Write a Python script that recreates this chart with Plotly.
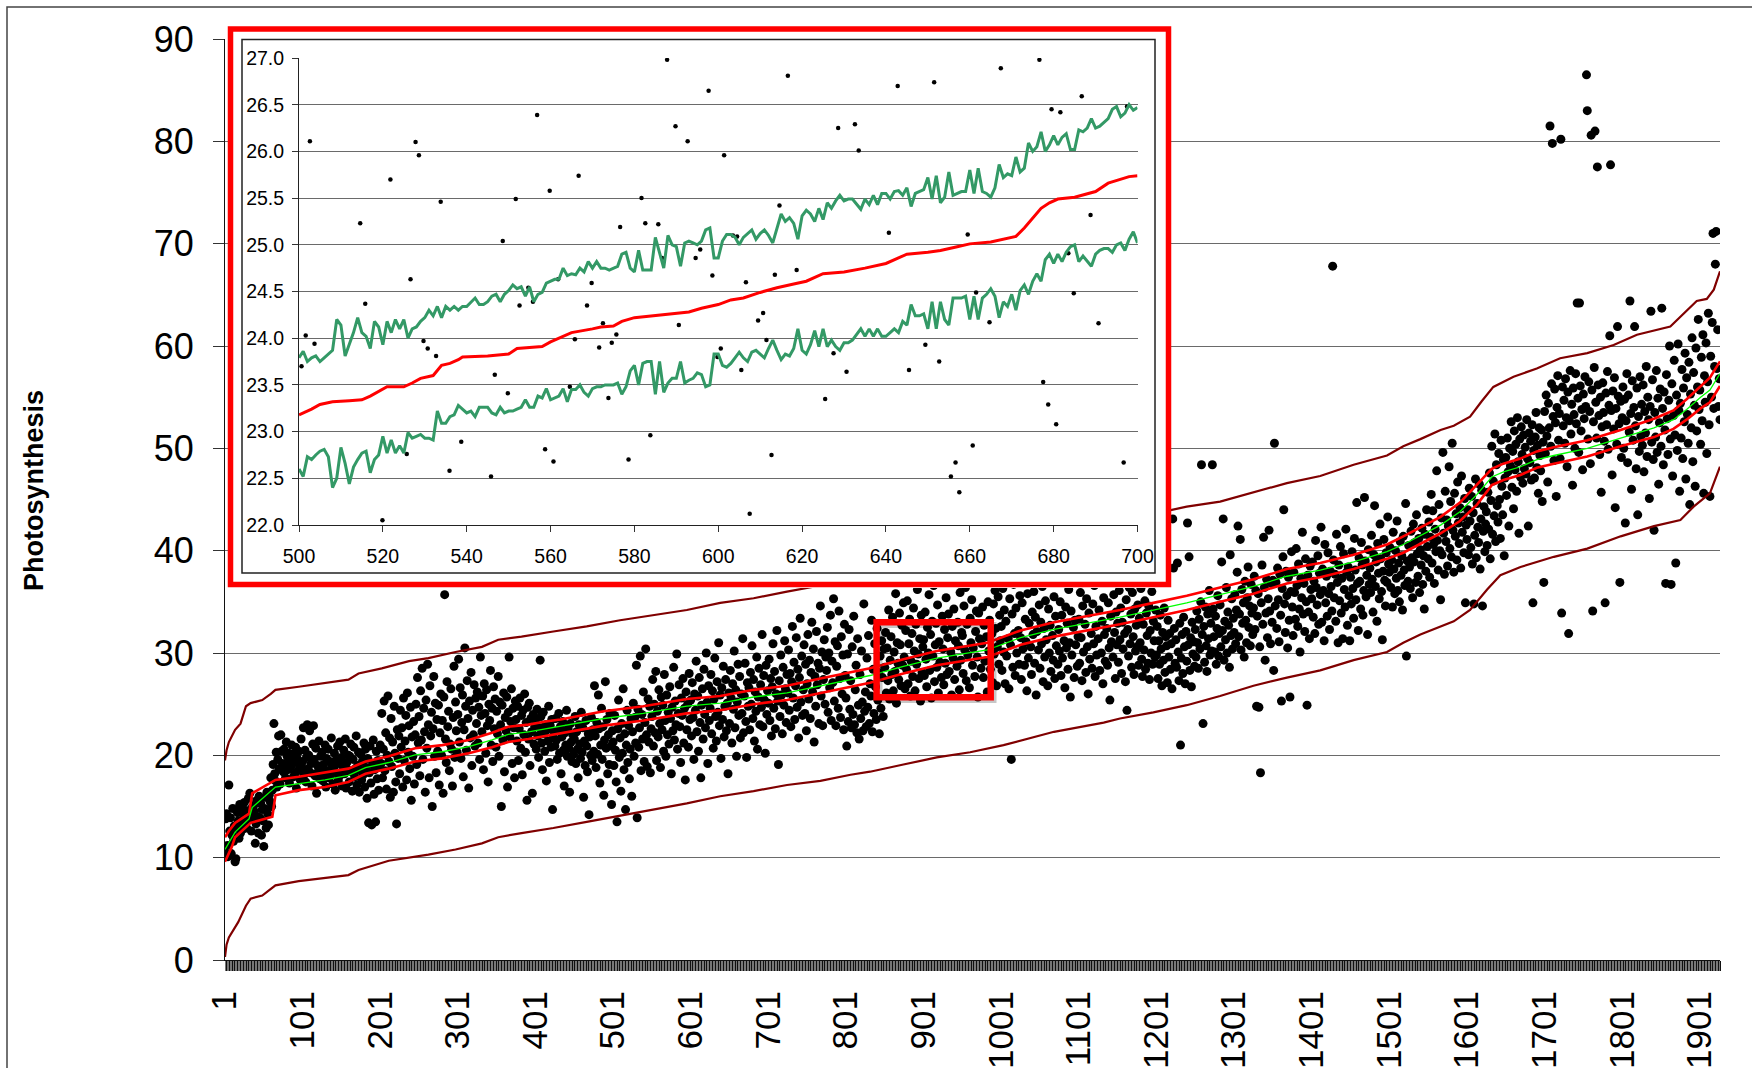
import plotly.graph_objects as go

# ---------------- main chart data ----------------
# measured photosynthesis, one value per ranked sample (1..1927)
photosynthesis = [
    10.5, 13.8, 14.3, 11.2, 10.1, 17.1, 12.6, 13.9, 10.4, 12.2, 14.8, 11.6, 13.1, 9.6, 9.9, 12.9, 14.4, 13.6, 11.9, 15.2, 12.4, 14.9, 13.2, 12.8, 14.1,
    15.4, 13.5, 14.6, 12.9, 14.2, 15.8, 13.7, 16.3, 14.4, 12.6, 14.9, 13.8, 15.1, 14.5, 11.4, 13.3, 15.6, 14.0, 12.4, 16.0, 13.9, 15.3, 12.2, 14.7, 13.6,
    11.1, 14.8, 15.9, 12.9, 16.4, 14.3, 13.2, 16.1, 15.5, 17.8, 15.0, 16.6, 19.1, 23.1, 18.2, 17.5, 20.3, 16.9, 19.6, 21.9, 18.7, 17.2, 22.0, 20.4, 19.2,
    18.4, 20.6, 19.1, 17.8, 21.3, 19.9, 18.6, 20.2, 17.3, 19.5, 18.9, 21.0, 20.1, 17.9, 19.3, 18.2, 20.8, 16.8, 19.7, 18.5, 20.4, 19.0, 17.6, 21.6, 18.8,
    19.4, 22.7, 18.1, 20.5, 17.4, 19.8, 23.0, 18.7, 20.0, 22.4, 18.3, 19.2, 17.0, 21.1, 22.9, 19.6, 18.0, 20.7, 16.3, 19.0, 18.4, 21.4, 17.7, 19.9, 18.6,
    20.3, 17.5, 19.1, 18.2, 21.0, 16.9, 19.7, 18.5, 20.6, 17.8, 19.4, 18.0, 21.7, 19.0, 17.2, 18.8, 20.2, 16.6, 19.5, 18.3, 20.9, 17.6, 19.2, 21.3, 18.1,
    19.8, 17.0, 18.9, 20.5, 18.2, 21.6, 16.8, 19.3, 18.6, 20.0, 17.4, 19.9, 21.1, 18.4, 16.5, 19.6, 20.8, 17.9, 18.7, 21.9, 17.1, 19.0, 20.3, 16.4, 18.5,
    20.1, 17.6, 19.4, 18.1, 21.2, 16.9, 20.6, 18.8, 15.8, 19.7, 13.4, 18.3, 20.9, 17.3, 13.2, 19.1, 21.5, 16.2, 18.6, 13.5, 20.4, 17.7, 19.5, 16.6, 18.9,
    21.0, 19.2, 24.1, 17.8, 20.6, 25.3, 18.5, 22.2, 16.7, 20.0, 25.8, 19.4, 21.7, 15.9, 23.6, 18.9, 21.3, 16.4, 24.8, 20.2, 17.4, 13.3, 22.5, 19.7, 21.9,
    18.2, 24.4, 20.8, 22.7, 16.9, 25.6, 19.5, 21.4, 23.9, 17.6, 26.1, 20.3, 22.9, 18.7, 24.7, 15.6, 21.8, 19.9, 23.3, 17.2, 22.0, 25.0, 19.1, 27.6, 21.2,
    23.8, 18.0, 26.3, 21.5, 28.5, 19.6, 24.6, 22.3, 16.4, 25.4, 20.7, 28.9, 23.0, 17.8, 26.8, 21.9, 24.2, 15.0, 22.6, 27.7, 19.9, 25.1, 18.3, 23.5, 20.4,
    24.9, 17.1, 22.2, 26.0, 20.0, 23.4, 16.3, 25.7, 35.7, 21.6, 19.3, 27.2, 22.8, 24.3, 18.5, 21.1, 26.5, 20.6, 17.0, 23.7, 28.7, 19.8, 25.2, 22.4, 20.3,
    24.0, 29.4, 21.3, 26.6, 19.7, 23.2, 25.9, 17.9, 22.5, 30.5, 24.8, 20.5, 27.3, 23.6, 16.8, 25.3, 21.7, 28.1, 19.0, 24.4, 22.0, 26.9, 20.9, 25.6, 23.1,
    26.2, 21.2, 24.7, 19.6, 29.6, 23.9, 22.3, 25.8, 18.6, 27.0, 24.1, 20.2, 26.4, 22.9, 17.4, 25.0, 23.4, 28.3, 21.0, 24.6, 19.4, 26.7, 22.6, 25.5, 20.8,
    24.3, 22.1, 27.7, 19.9, 25.2, 23.0, 15.0, 24.9, 21.5, 26.1, 18.4, 23.7, 22.4, 25.7, 16.9, 24.2, 29.6, 21.8, 23.3, 26.5, 19.2, 24.6, 22.7, 17.8, 25.3,
    23.5, 21.4, 24.8, 19.5, 22.6, 25.6, 20.7, 23.9, 18.1, 24.4, 22.0, 26.0, 20.3, 23.2, 15.6, 24.7, 21.6, 25.1, 19.0, 23.6, 22.3, 16.3, 24.0, 21.1, 22.8,
    23.4, 20.6, 24.5, 21.9, 19.8, 22.7, 29.3, 23.8, 21.2, 18.6, 24.2, 22.1, 20.4, 23.0, 17.5, 22.5, 21.4, 24.8, 19.3, 22.9, 20.8, 23.5, 14.7, 21.7, 22.3,
    20.9, 23.6, 21.5, 19.6, 22.4, 24.1, 20.2, 22.8, 18.2, 21.8, 23.3, 20.5, 17.0, 22.2, 21.0, 24.4, 19.9, 22.6, 20.7, 16.4, 23.1, 21.3, 19.4, 22.0, 20.1,
    21.6, 23.8, 19.2, 22.3, 20.6, 17.8, 23.0, 21.1, 19.7, 24.2, 20.3, 22.7, 15.9, 21.4, 19.0, 23.4, 20.9, 18.4, 22.1, 14.2, 21.8, 20.0, 23.7, 19.5, 22.5,
    20.4, 26.8, 21.9, 18.8, 23.2, 20.1, 25.9, 22.6, 17.3, 21.0, 24.6, 19.6, 22.8, 16.1, 21.5, 27.2, 20.7, 23.5, 18.2, 22.0, 19.1, 24.1, 20.9, 15.2, 22.4,
    21.3, 19.0, 23.9, 20.5, 17.4, 13.5, 22.6, 25.4, 19.8, 21.7, 16.5, 23.1, 20.2, 26.5, 18.6, 22.1, 14.7, 21.0, 24.4, 19.3, 22.9, 17.7, 20.6, 23.6, 16.0,
    22.3, 25.1, 19.9, 23.7, 21.2, 28.8, 13.9, 24.5, 20.8, 22.7, 29.7, 18.5, 24.0, 21.6, 26.2, 19.4, 23.2, 30.4, 22.0, 18.9, 25.5, 21.3, 24.8, 18.3, 22.6,
    23.8, 27.4, 20.9, 25.0, 22.2, 28.2, 19.5, 24.3, 21.8, 26.4, 23.1, 18.8, 25.7, 22.5, 24.9, 20.4, 27.9, 23.4, 19.9, 25.9, 22.0, 24.2, 21.1, 26.7, 23.6,
    18.2, 24.7, 22.4, 28.6, 21.5, 25.3, 23.0, 29.9, 20.6, 24.1, 26.9, 22.8, 19.3, 25.6, 23.9, 27.5, 21.2, 24.6, 17.6, 26.2, 22.5, 25.0, 20.8, 28.0, 23.5,
    25.4, 21.9, 27.1, 23.7, 19.6, 26.0, 24.4, 29.2, 22.3, 25.8, 20.4, 27.6, 23.2, 17.8, 24.9, 26.5, 21.6, 28.4, 24.0, 22.7, 30.0, 25.2, 19.2, 26.8, 23.4,
    24.6, 27.9, 22.1, 26.3, 20.7, 25.5, 29.5, 23.8, 21.4, 27.2, 24.2, 31.0, 22.9, 25.9, 19.7, 26.6, 23.5, 28.7, 21.8, 24.8, 27.4, 22.4, 25.1, 18.2, 26.1,
    23.1, 28.3, 25.6, 21.2, 27.0, 24.5, 30.2, 22.7, 26.4, 19.9, 25.2, 28.9, 23.9, 27.7, 21.7, 26.0, 24.1, 31.4, 22.2, 25.8, 29.0, 23.3, 19.8, 27.1, 24.8,
    26.6, 22.5, 28.1, 25.0, 30.7, 23.6, 27.4, 21.4, 26.2, 24.3, 29.6, 20.6, 25.7, 28.5, 23.0, 26.9, 24.7, 31.8, 22.8, 27.8, 25.4, 20.2, 28.8, 24.0, 26.3,
    25.1, 29.4, 23.4, 27.5, 21.9, 26.7, 30.9, 24.6, 28.2, 22.6, 26.0, 32.2, 25.3, 19.1, 27.3, 23.8, 29.8, 25.9, 22.1, 28.6, 24.9, 31.2, 26.5, 23.2, 27.9,
    26.1, 30.3, 24.4, 28.0, 22.8, 27.2, 32.6, 25.6, 29.1, 23.5, 26.8, 31.5, 24.7, 28.4, 21.7, 27.6, 33.4, 25.2, 29.7, 23.9, 26.4, 30.8, 24.1, 28.9, 22.4,
    27.0, 31.8, 25.5, 29.3, 23.6, 28.1, 33.0, 26.2, 30.4, 21.3, 27.7, 24.8, 32.1, 26.9, 29.0, 23.1, 28.5, 34.6, 25.8, 30.1, 22.9, 27.4, 31.3, 25.0, 29.6,
    28.3, 32.5, 24.2, 30.0, 26.6, 33.7, 23.4, 29.2, 27.1, 35.3, 25.3, 31.1, 22.9, 28.7, 30.7, 24.6, 34.1, 27.5, 23.7, 31.6, 26.0, 29.8, 22.5, 32.8, 27.8,
    25.6, 20.9, 29.9, 23.3, 32.3, 24.5, 27.3, 22.7, 30.6, 24.0, 33.6, 23.0, 26.4, 28.8, 22.2, 31.4, 24.9, 21.6, 27.9, 23.6, 30.2, 25.2, 22.4, 34.8, 24.3,
    26.2, 22.8, 29.5, 24.7, 31.7, 23.1, 27.0, 25.8, 33.2, 22.3, 28.4, 24.1, 30.9, 26.7, 23.5, 32.4, 25.4, 28.1, 22.1, 29.7, 24.6, 31.2, 27.6, 23.8, 30.4,
    28.6, 32.0, 26.1, 30.5, 27.3, 34.2, 25.5, 29.3, 31.6, 27.9, 33.5, 26.3, 30.1, 28.2, 35.8, 25.1, 31.0, 29.0, 27.4, 33.9, 30.8, 26.8, 32.7, 28.8, 34.9,
    29.6, 26.5, 32.2, 28.4, 35.1, 27.0, 30.9, 33.3, 25.8, 29.2, 31.9, 27.7, 34.4, 30.2, 26.3, 32.8, 28.9, 36.2, 29.9, 27.5, 31.4, 25.3, 33.7, 28.1, 30.6,
    31.3, 27.8, 34.0, 29.4, 26.7, 32.5, 30.0, 35.7, 28.3, 31.8, 25.6, 33.1, 29.7, 36.6, 27.2, 30.8, 32.9, 28.6, 34.7, 26.1, 31.1, 29.1, 37.3, 27.6, 33.6,
    30.4, 26.9, 32.3, 29.0, 35.4, 27.9, 31.5, 33.8, 28.2, 36.9, 30.1, 25.9, 32.6, 29.5, 34.3, 27.4, 31.2, 38.0, 28.7, 33.0, 30.7, 26.4, 35.9, 29.3, 32.0,
    31.7, 28.0, 34.6, 30.3, 36.4, 27.3, 32.8, 29.8, 38.5, 26.6, 33.4, 31.0, 35.2, 28.8, 30.5, 37.1, 27.7, 32.1, 34.1, 29.6, 25.7, 33.9, 31.4, 36.8, 28.5,
    30.9, 34.5, 27.6, 32.7, 29.2, 37.6, 31.6, 26.2, 35.0, 30.2, 33.2, 28.4, 38.8, 31.9, 27.1, 34.8, 29.9, 36.1, 32.4, 26.8, 30.6, 35.5, 28.9, 33.7, 31.2,
    32.6, 28.3, 36.3, 30.1, 34.2, 27.0, 33.1, 29.7, 37.9, 31.4, 26.5, 35.3, 30.8, 19.6, 33.8, 28.6, 36.7, 31.9, 27.8, 34.4, 30.0, 39.1, 32.2, 28.9, 35.6,
    31.5, 27.4, 34.9, 30.4, 37.4, 28.8, 33.3, 31.1, 26.3, 35.8, 29.5, 32.9, 38.3, 30.6, 27.9, 34.0, 31.8, 36.0, 29.0, 33.5, 25.9, 32.1, 37.0, 30.3, 34.7,
    28.5, 33.0, 30.9, 36.5, 27.2, 32.4, 29.6, 35.1, 31.3, 38.6, 26.8, 34.3, 30.0, 32.7, 28.2, 37.3, 31.7, 29.3, 35.5, 27.5, 33.6, 30.7, 39.4, 28.9, 32.3,
    30.2, 35.0, 27.8, 33.7, 29.5, 37.8, 31.2, 26.6, 34.5, 30.5, 32.9, 28.4, 36.2, 31.0, 25.7, 34.1, 29.8, 38.9, 32.5, 27.6, 33.2, 30.8, 36.9, 28.7, 31.6,
    33.3, 29.0, 35.9, 31.5, 27.3, 34.6, 30.1, 38.1, 32.8, 28.1, 35.3, 30.6, 26.0, 33.9, 29.4, 37.1, 31.9, 28.5, 34.8, 30.9, 36.6, 27.7, 32.6, 29.8, 39.6,
    31.4, 34.2, 28.3, 36.8, 30.0, 33.1, 27.0, 35.4, 31.8, 29.2, 37.5, 32.4, 28.8, 34.9, 30.5, 25.4, 33.6, 31.1, 38.4, 29.6, 35.7, 32.0, 27.5, 34.0, 30.8,
    32.9, 29.1, 36.1, 31.3, 34.4, 28.0, 33.0, 30.4, 37.7, 31.9, 27.2, 35.2, 24.4, 32.3, 29.7, 36.4, 30.9, 33.8, 28.6, 35.9, 31.6, 27.9, 34.3, 30.2, 32.7,
    30.6, 34.7, 28.8, 33.4, 31.0, 36.3, 29.4, 27.7, 32.8, 30.3, 35.1, 28.4, 33.9, 31.7, 29.0, 34.6, 27.4, 32.2, 30.0, 36.0, 28.9, 33.1, 31.2, 29.6, 34.2,
    29.8, 32.6, 27.5, 31.2, 28.9, 33.7, 30.4, 26.8, 32.0, 29.3, 34.4, 28.1, 31.6, 30.7, 27.1, 33.2, 29.6, 31.9, 28.4, 30.9, 26.5, 43.1, 38.3, 32.4, 29.0,
    31.3, 28.6, 38.8, 30.1, 27.3, 32.9, 21.0, 29.5, 31.8, 28.0, 33.5, 30.6, 27.0, 32.1, 29.2, 42.7, 30.8, 39.4, 28.3, 31.5, 26.7, 33.0, 29.9, 31.1, 28.7,
    32.3, 29.6, 34.1, 31.0, 28.5, 33.3, 30.4, 35.0, 48.4, 31.8, 23.1, 32.6, 29.1, 34.5, 30.7, 28.2, 33.8, 31.4, 36.1, 29.8, 32.9, 30.2, 48.4, 34.3, 31.6,
    30.1, 33.6, 28.9, 32.4, 35.6, 29.7, 31.9, 34.7, 30.6, 38.9, 32.2, 43.1, 29.3, 33.1, 31.3, 36.4, 30.0, 34.0, 32.7, 28.6, 39.6, 31.7, 35.3, 30.4, 33.4,
    32.0, 35.7, 30.9, 34.2, 37.9, 42.4, 31.6, 33.8, 41.1, 30.3, 36.2, 32.9, 34.9, 29.6, 37.0, 33.2, 31.0, 35.4, 38.4, 32.5, 34.6, 30.7, 36.7, 33.9, 31.8,
    34.4, 37.5, 32.3, 36.1, 24.8, 33.6, 35.8, 24.7, 30.6, 18.3, 34.9, 38.6, 32.8, 41.3, 36.4, 29.3, 33.9, 37.2, 31.5, 35.3, 42.0, 34.1, 30.9, 36.8, 33.0,
    37.1, 28.3, 50.5, 34.6, 36.9, 32.4, 38.3, 35.2, 31.1, 37.7, 33.7, 25.3, 36.3, 39.4, 44.0, 34.8, 32.0, 38.0, 35.6, 30.5, 37.4, 33.2, 25.7, 36.0, 39.9,
    34.5, 31.7, 37.9, 35.9, 33.3, 40.2, 36.6, 32.6, 38.7, 34.3, 30.1, 37.3, 35.4, 41.8, 33.8, 36.8, 32.1, 39.2, 35.0, 24.9, 37.6, 34.0, 31.4, 38.5, 36.2,
    35.3, 38.9, 33.5, 37.0, 31.9, 41.0, 36.4, 34.7, 39.5, 32.8, 37.8, 35.7, 42.3, 33.0, 38.2, 36.1, 31.2, 40.6, 34.9, 37.5, 33.6, 39.8, 35.8, 32.3, 38.0,
    36.5, 34.1, 67.8, 39.1, 35.4, 37.7, 33.1, 41.6, 36.9, 31.0, 38.6, 35.1, 40.4, 33.9, 37.3, 31.4, 39.7, 36.2, 34.5, 42.1, 37.9, 32.7, 38.4, 35.6, 31.2,
    37.4, 34.8, 39.9, 36.3, 33.4, 41.2, 38.1, 35.2, 44.7, 36.8, 32.2, 39.3, 37.0, 34.3, 40.8, 38.6, 33.7, 36.1, 45.2, 39.0, 35.5, 37.6, 31.8, 40.1, 36.7,
    38.3, 35.9, 41.5, 37.2, 34.0, 39.6, 44.4, 36.5, 38.9, 33.1, 40.7, 37.8, 35.3, 42.6, 39.2, 36.0, 31.3, 38.0, 41.1, 37.1, 34.6, 39.8, 36.9, 43.3, 38.7,
    37.9, 40.3, 36.4, 39.1, 34.5, 41.8, 38.2, 35.8, 40.0, 37.3, 42.9, 36.1, 38.8, 35.0, 40.9, 37.6, 39.5, 34.2, 41.4, 38.1, 36.6, 44.6, 29.7, 39.0, 37.0,
    40.5, 38.4, 36.3, 41.9, 39.3, 35.4, 42.6, 38.9, 40.8, 36.9, 43.5, 39.7, 37.5, 41.2, 35.9, 40.1, 38.6, 42.2, 36.7, 39.5, 34.3, 41.6, 38.0, 44.0, 40.4,
    39.2, 42.8, 37.4, 41.3, 45.5, 38.8, 43.9, 40.6, 36.8, 42.1, 39.9, 47.8, 41.0, 38.1, 44.5, 40.0, 35.2, 43.2, 39.6, 49.6, 41.7, 37.7, 45.8, 40.9, 43.0,
    38.5, 42.4, 48.2, 40.2, 44.8, 39.4, 50.5, 42.0, 37.9, 45.6, 41.4, 43.6, 39.1, 46.7, 42.7, 40.7, 44.2, 38.3, 47.3, 41.8, 43.3, 39.8, 45.1, 34.9, 42.5,
    41.1, 44.0, 39.6, 46.1, 42.9, 40.3, 45.3, 38.7, 43.7, 34.8, 41.5, 47.0, 39.3, 44.6, 42.3, 40.8, 46.5, 38.2, 43.1, 45.9, 34.6, 41.9, 44.3, 39.9, 42.6,
    43.8, 40.5, 45.7, 42.1, 47.6, 39.2, 44.9, 50.2, 41.6, 46.8, 43.4, 51.4, 40.9, 48.4, 44.4, 42.8, 49.5, 45.0, 41.2, 50.8, 46.3, 43.5, 48.9, 39.5, 47.1,
    49.1, 45.4, 51.0, 47.7, 42.4, 50.0, 48.3, 52.6, 46.2, 49.7, 44.1, 51.7, 47.9, 50.4, 45.8, 53.0, 48.7, 41.7, 50.9, 47.2, 52.1, 49.4, 46.6, 51.3, 48.0,
    50.1, 47.5, 52.8, 49.0, 42.4, 51.5, 48.6, 50.7, 46.9, 52.3, 34.9, 49.8, 47.1, 51.1, 53.5, 48.1, 50.3, 45.6, 52.0, 49.3, 47.8, 51.8, 44.8, 50.6, 36.9,
    53.6, 49.5, 55.2, 51.2, 46.7, 54.4, 52.0, 81.5, 50.2, 56.3, 79.8, 53.1, 48.8, 55.8, 52.5, 45.3, 54.0, 57.1, 50.8, 53.4, 49.0, 80.2, 33.9, 56.0, 52.2,
    54.7, 50.5, 56.8, 53.0, 48.2, 55.5, 31.9, 52.7, 57.6, 51.4, 54.3, 46.4, 55.9, 53.3, 50.0, 57.3, 52.4, 64.2, 54.9, 49.6, 64.2, 56.1, 51.7, 53.8, 47.9,
    55.3, 52.9, 57.0, 54.1, 86.5, 83.0, 50.9, 56.5, 53.6, 48.5, 80.6, 55.7, 34.1, 52.6, 57.9, 81.0, 54.5, 51.0, 77.5, 56.2, 53.2, 49.4, 55.0, 45.7, 52.1,
    56.4, 53.5, 50.7, 34.9, 55.4, 52.3, 57.5, 49.9, 54.2, 61.0, 77.7, 53.7, 47.4, 55.6, 51.9, 56.9, 44.2, 53.9, 50.4, 61.9, 55.1, 52.4, 36.9, 54.6, 49.1,
    53.0, 56.0, 50.0, 54.8, 42.7, 52.7, 57.3, 48.6, 55.2, 51.6, 64.4, 53.4, 46.0, 56.6, 50.8, 54.0, 61.9, 52.2, 48.0, 55.9, 43.5, 53.1, 49.7, 57.0, 51.2,
    54.3, 50.3, 56.2, 47.7, 53.6, 51.5, 58.0, 49.2, 55.0, 52.8, 45.1, 54.1, 63.4, 50.6, 56.7, 48.9, 42.0, 53.5, 51.1, 57.6, 49.6, 54.9, 46.5, 52.5, 55.8,
    50.2, 63.7, 53.9, 48.4, 55.5, 51.8, 36.8, 57.2, 52.9, 49.4, 54.7, 60.0, 50.9, 36.7, 56.3, 47.3, 53.2, 58.6, 51.3, 38.8, 55.2, 49.8, 60.2, 53.7, 45.8,
    54.4, 51.0, 57.7, 49.0, 55.9, 52.6, 59.3, 47.0, 56.9, 53.3, 50.5, 58.4, 44.5, 55.3, 52.0, 60.8, 48.7, 57.4, 54.2, 46.3, 59.8, 51.7, 56.0, 62.6, 53.8,
    55.7, 50.4, 58.9, 52.7, 61.1, 45.6, 57.1, 54.5, 60.3, 49.5, 56.5, 63.2, 52.3, 45.3, 59.0, 55.0, 62.3, 71.0, 53.9, 58.0, 68.0, 71.2, 57.8, 61.6, 54.1,
    56.8, 52.8,
]
sample = list(range(1, len(photosynthesis) + 1))

# category labels printed on the x axis
x_tick_pos = [1, 101, 201, 301, 401, 501, 601, 701, 801, 901, 1001, 1101,
              1201, 1301, 1401, 1501, 1601, 1701, 1801, 1901]
x_tick_text = ["1", "101", "201", "301", "401", "501", "601", "701", "801",
               "901", "1001", "1101", "1201", "1301", "1401", "1501", "1601",
               "1701", "1801", "1901"]
y_tick_vals = [0, 10, 20, 30, 40, 50, 60, 70, 80, 90]

# fitted curve (green)
fit_x = [1, 6, 14, 32, 36, 66, 96, 130, 160, 182, 212, 246, 281, 315, 345, 366, 392, 414, 433, 489,
         540, 596, 639, 682, 725, 768, 807, 832, 875, 918, 983, 1026, 1069, 1111, 1154, 1197, 1240,
         1283, 1326, 1369, 1412, 1455, 1498, 1519, 1541, 1567, 1592, 1614, 1633, 1648, 1670, 1691,
         1713, 1756, 1799, 1842, 1867, 1884, 1902, 1914, 1927]
fit_y = [10.8, 11.5, 12.5, 13.8, 14.9, 16.9, 17.25, 17.6, 18.05, 18.8, 19.3, 20.05, 20.35, 20.85,
         21.5, 22.05, 22.3, 22.6, 22.8, 23.6, 24.1, 24.8, 25.1, 25.7, 26.1, 26.8, 27.4, 27.8, 28.7,
         29.5, 30.3, 31.5, 32.3, 32.9, 33.5, 34.2, 34.9, 35.7, 36.5, 37.5, 38.1, 38.9, 39.9, 40.6,
         41.5, 42.5, 43.8, 45.5, 47.2, 47.7, 48.2, 48.9, 49.3, 50.0, 51.0, 52.0, 52.8, 53.8, 55.0,
         55.7, 57.3]

# confidence band of the fit (red)
conf_hi_x = fit_x
conf_hi_y = [12.0, 12.6, 13.4, 14.3, 16.3, 17.6, 17.9, 18.3, 18.7, 19.4, 19.9, 20.7, 21.0, 21.5,
             22.2, 22.8, 23.0, 23.3, 23.5, 24.3, 24.8, 25.5, 25.8, 26.4, 26.8, 27.5, 28.1, 28.5,
             29.4, 30.2, 31.0, 32.2, 33.0, 33.6, 34.2, 34.9, 35.6, 36.4, 37.2, 38.2, 38.8, 39.6,
             40.6, 41.4, 42.3, 43.3, 44.7, 46.5, 48.0, 48.5, 49.0, 49.7, 50.1, 50.8, 51.8, 52.9,
             53.7, 54.8, 56.1, 56.9, 58.5]
conf_lo_x = [1, 10, 14, 34, 62, 66, 96, 130, 160, 182, 212, 246, 281, 315, 345, 366, 392, 414, 433,
             489, 540, 596, 639, 682, 725, 768, 807, 832, 875, 918, 983, 1026, 1069, 1111, 1154, 1197,
             1240, 1283, 1326, 1369, 1412, 1455, 1498, 1519, 1541, 1567, 1592, 1614, 1633, 1648, 1670,
             1691, 1713, 1756, 1799, 1842, 1867, 1884, 1902, 1914, 1927]
conf_lo_y = [9.6, 11.1, 12.0, 13.4, 14.0, 16.1, 16.6, 16.9, 17.4, 18.2, 18.7, 19.4, 19.7, 20.2, 20.8,
             21.3, 21.6, 21.9, 22.1, 22.9, 23.4, 24.1, 24.4, 25.0, 25.4, 26.1, 26.7, 27.1, 28.0, 28.8,
             29.6, 30.8, 31.6, 32.2, 32.8, 33.5, 34.2, 35.0, 35.8, 36.8, 37.4, 38.2, 39.2, 39.8, 40.7,
             41.7, 42.9, 44.5, 46.4, 46.9, 47.4, 48.1, 48.5, 49.2, 50.2, 51.1, 51.9, 52.8, 53.9, 54.5,
             56.1]

# prediction band (dark red)
pred_hi_x = [1, 3, 6, 14, 21, 28, 34, 49, 60, 66, 96, 130, 160, 173, 203, 238, 263, 298, 332, 353,
             383, 424, 467, 510, 553, 596, 639, 682, 725, 768, 807, 832, 875, 918, 961, 1004, 1069,
             1133, 1197, 1240, 1283, 1326, 1369, 1412, 1455, 1498, 1519, 1541, 1567, 1584, 1605, 1620,
             1635, 1661, 1691, 1721, 1756, 1790, 1820, 1863, 1884, 1897, 1910, 1919, 1927]
pred_hi_y = [19.5, 20.5, 21.3, 22.5, 23.1, 24.8, 25.1, 25.4, 26.0, 26.4, 26.7, 27.05, 27.4, 28.0,
             28.5, 29.2, 29.5, 30.1, 30.6, 31.3, 31.6, 32.1, 32.6, 33.2, 33.7, 34.2, 34.9, 35.35, 36.0,
             36.6, 37.3, 37.6, 38.3, 39.2, 39.8, 40.5, 41.9, 42.7, 43.6, 44.3, 44.8, 45.7, 46.6, 47.3,
             48.4, 49.3, 50.2, 50.9, 51.8, 52.2, 53.1, 54.6, 56.0, 57.0, 57.8, 58.8, 59.3, 60.1, 61.1,
             61.9, 63.5, 64.4, 64.6, 65.5, 67.3]
pred_lo_x = [1, 3, 6, 14, 18, 28, 34, 49, 60, 66, 96, 130, 160, 173, 212, 263, 298, 332, 353, 383,
             424, 467, 510, 553, 596, 639, 682, 725, 768, 807, 832, 875, 918, 961, 1004, 1069, 1133,
             1154, 1197, 1240, 1283, 1326, 1369, 1412, 1455, 1498, 1519, 1541, 1584, 1605, 1627, 1644,
             1670, 1713, 1756, 1799, 1842, 1876, 1893, 1914, 1927]
pred_lo_y = [0.3, 1.5, 2.2, 3.3, 3.7, 5.3, 6.0, 6.3, 6.9, 7.3, 7.7, 8.0, 8.3, 8.8, 9.7, 10.3, 10.8,
             11.4, 12.0, 12.4, 12.9, 13.5, 14.1, 14.7, 15.3, 16.0, 16.5, 17.1, 17.5, 18.1, 18.4, 19.1,
             19.8, 20.3, 21.0, 22.3, 23.2, 23.6, 24.2, 24.9, 25.8, 26.8, 27.6, 28.3, 29.3, 30.1, 31.0,
             31.8, 33.1, 34.2, 36.2, 37.6, 38.4, 39.4, 40.2, 41.4, 42.4, 43.0, 44.3, 45.6, 48.2]

# ---------------- inset (samples 500-700) ----------------
inset_x = list(range(500, 701))
inset_hi = [
    23.79, 23.86, 23.75, 23.79, 23.81, 23.75, 23.79, 23.83, 23.87, 24.20,
    24.14, 23.81, 23.93, 24.06, 24.22, 24.06, 24.02, 23.89, 24.18, 24.12,
    23.93, 24.18, 24.06, 24.20, 24.10, 24.20, 24.00, 24.10, 24.12, 24.18,
    24.22, 24.30, 24.24, 24.34, 24.22, 24.34, 24.30, 24.34, 24.30, 24.34,
    24.34, 24.39, 24.43, 24.36, 24.36, 24.39, 24.45, 24.47, 24.39, 24.47,
    24.51, 24.57, 24.53, 24.55, 24.45, 24.55, 24.39, 24.47, 24.49, 24.59,
    24.61, 24.63, 24.63, 24.75, 24.67, 24.69, 24.68, 24.75, 24.71, 24.82,
    24.75, 24.82, 24.75, 24.75, 24.73, 24.75, 24.77, 24.90, 24.92, 24.75,
    24.71, 24.94, 24.73, 24.73, 24.73, 25.08, 24.92, 24.75, 25.10, 25.00,
    24.98, 24.77, 25.02, 25.04, 25.02, 25.00, 25.04, 25.16, 25.18, 24.86,
    24.86, 25.04, 25.11, 25.11, 25.08, 25.00, 25.08, 25.12, 25.16, 25.06,
    25.12, 25.16, 25.10, 25.02, 25.18, 25.33, 25.25, 25.29, 25.23, 25.06,
    25.31, 25.37, 25.33, 25.25, 25.39, 25.27, 25.45, 25.39, 25.47, 25.53,
    25.47, 25.49, 25.49, 25.43, 25.38, 25.49, 25.43, 25.53, 25.43, 25.55,
    25.55, 25.49, 25.57, 25.58, 25.53, 25.61, 25.41, 25.55, 25.57, 25.59,
    25.72, 25.49, 25.74, 25.45, 25.51, 25.78, 25.53, 25.55, 25.57, 25.57,
    25.80, 25.55, 25.82, 25.57, 25.55, 25.51, 25.61, 25.86, 25.72, 25.76,
    25.74, 25.94, 25.78, 25.82, 26.09, 26.00, 26.05, 26.21, 26.00, 26.07,
    26.17, 26.07, 26.15, 26.19, 26.02, 26.02, 26.23, 26.21, 26.25, 26.35,
    26.25, 26.27, 26.31, 26.35, 26.45, 26.48, 26.37, 26.41, 26.50, 26.44,
    26.47,
]
inset_lo = [
    22.60, 22.52, 22.73, 22.70, 22.75, 22.79, 22.81, 22.73, 22.40, 22.50,
    22.83, 22.66, 22.44, 22.62, 22.70, 22.77, 22.79, 22.56, 22.70, 22.75,
    22.95, 22.77, 22.91, 22.77, 22.85, 22.77, 22.99, 22.93, 22.95, 22.97,
    22.93, 22.93, 22.91, 23.22, 23.09, 23.09, 23.16, 23.18, 23.28, 23.24,
    23.20, 23.22, 23.16, 23.26, 23.26, 23.26, 23.20, 23.18, 23.26, 23.20,
    23.22, 23.22, 23.24, 23.26, 23.34, 23.26, 23.26, 23.38, 23.36, 23.46,
    23.34, 23.36, 23.38, 23.46, 23.32, 23.45, 23.45, 23.50, 23.42, 23.38,
    23.46, 23.48, 23.48, 23.50, 23.50, 23.50, 23.52, 23.40, 23.48, 23.65,
    23.71, 23.50, 23.73, 23.75, 23.75, 23.40, 23.75, 23.42, 23.52, 23.57,
    23.57, 23.75, 23.52, 23.55, 23.57, 23.63, 23.61, 23.48, 23.50, 23.83,
    23.83, 23.71, 23.69, 23.73, 23.79, 23.85, 23.79, 23.75, 23.85, 23.87,
    23.83, 23.79, 23.89, 23.98, 23.87, 23.77, 23.83, 23.81, 23.89, 24.10,
    23.87, 23.83, 23.93, 24.08, 23.91, 24.10, 23.91, 23.98, 23.91, 23.87,
    23.95, 23.95, 23.98, 24.04, 24.10, 24.02, 24.10, 24.02, 24.10, 24.02,
    24.02, 24.06, 24.10, 24.06, 24.18, 24.14, 24.36, 24.24, 24.24, 24.26,
    24.10, 24.39, 24.10, 24.39, 24.20, 24.14, 24.43, 24.43, 24.43, 24.45,
    24.20, 24.45, 24.20, 24.43, 24.47, 24.53, 24.45, 24.22, 24.39, 24.34,
    24.47, 24.30, 24.51, 24.57, 24.47, 24.61, 24.69, 24.61, 24.84, 24.90,
    24.80, 24.90, 24.82, 24.92, 24.98, 25.00, 24.82, 24.88, 24.82, 24.77,
    24.90, 24.94, 24.96, 24.96, 24.92, 25.00, 25.02, 24.94, 25.06, 25.14,
    25.02,
]
inset_fit_x = [500, 503, 505, 508, 512, 515, 517, 519, 521, 525, 527, 529, 532, 534, 536, 538, 539,
               545, 550, 552, 555, 558, 560, 563, 565, 570, 572, 575, 577, 580, 585, 590, 593, 596,
               600, 603, 606, 610, 614, 618, 621, 625, 630, 635, 640, 643, 645, 650, 653, 657, 660,
               665, 668, 671, 673, 675, 677, 679, 681, 685, 688, 690, 693, 696, 698, 700]
inset_fit_y = [23.18, 23.24, 23.29, 23.32, 23.33, 23.34, 23.38, 23.43, 23.48, 23.48, 23.52, 23.57,
               23.60, 23.71, 23.73, 23.77, 23.80, 23.81, 23.83, 23.89, 23.90, 23.91, 23.96, 24.02,
               24.06, 24.10, 24.12, 24.13, 24.18, 24.22, 24.24, 24.26, 24.28, 24.32, 24.36, 24.41,
               24.43, 24.49, 24.54, 24.58, 24.61, 24.69, 24.71, 24.75, 24.80, 24.86, 24.90, 24.92,
               24.94, 24.98, 25.01, 25.03, 25.06, 25.09, 25.18, 25.29, 25.39, 25.45, 25.49, 25.51,
               25.55, 25.57, 25.66, 25.70, 25.73, 25.74]
inset_pts_x = [502.6, 501.6, 503.7, 500.6, 514.6, 515.8, 521.8, 519.9, 526.6, 527.8, 528.6, 529.7,
               530.7, 532.7, 533.8, 525.7, 535.9, 538.7, 545.8, 546.7, 548.6, 549.8, 551.7, 552.6,
               554.7, 555.8, 556.8, 558.7, 559.8, 560.7, 561.8, 564.6, 565.8, 566.7, 568.7, 569.8,
               571.6, 587.8, 589.8, 592.7, 597.7, 601.4, 581.7, 582.6, 585.7, 576.6, 586.6, 594.6,
               595.7, 598.6, 603.5, 604.5, 606.6, 613.5, 618.7, 614.6, 616.6, 628.6, 632.6, 633.5,
               642.8, 651.5, 667.4, 676.6, 679.5, 681.6, 686.7, 697.5, 640.7, 659.5, 688.8, 572.5,
               574.6, 575.7, 590.6, 609.5, 610.7, 611.5, 600.6, 599.8, 605.5, 573.8, 583.8, 578.6,
               612.7, 607.5, 625.5, 627.5, 630.6, 645.5, 649.4, 652.7, 661.5, 664.7, 683.5, 684.8,
               690.7, 677.5, 678.7, 680.6, 660.7, 656.6, 655.5, 657.5, 696.7]
inset_pts_y = [26.11, 24.03, 23.94, 23.70, 25.23, 24.37, 25.70, 22.05, 24.63, 26.10, 25.96, 23.97,
               23.89, 23.81, 25.46, 22.76, 22.58, 22.89, 22.52, 23.61, 25.04, 23.41, 25.49, 24.35,
               24.54, 24.39, 26.39, 22.81, 25.58, 22.68, 24.63, 23.48, 23.99, 25.74, 24.35, 24.59,
               23.90, 26.98, 26.27, 26.11, 26.65, 25.96, 25.50, 25.23, 25.22, 25.19, 24.86, 24.86,
               24.95, 24.67, 25.10, 25.09, 24.60, 24.68, 24.73, 25.42, 26.81, 26.25, 26.29, 26.01,
               26.70, 26.74, 26.89, 26.98, 26.45, 26.42, 26.59, 26.48, 25.13, 25.11, 25.32, 24.16,
               23.95, 24.04, 24.14, 24.19, 24.27, 23.98, 23.89, 23.80, 23.66, 23.36, 22.96, 22.70,
               22.75, 22.12, 23.35, 23.84, 23.64, 23.66, 23.93, 23.75, 24.49, 24.17, 24.91, 24.48,
               24.16, 23.53, 23.29, 23.08, 22.85, 22.67, 22.52, 22.35, 22.67]
inset_x_ticks = [500, 520, 540, 560, 580, 600, 620, 640, 660, 680, 700]
inset_y_ticks = [22.0, 22.5, 23.0, 23.5, 24.0, 24.5, 25.0, 25.5, 26.0, 26.5, 27.0]

# ---------------- page geometry (pixels) ----------------
W, H = 1752, 1068
ML, MR, MT, MB = 225, 32, 39, 108
PW, PH = W - ML - MR, H - MT - MB


def fx(px):
    return (px - ML) / PW


def fy(py):
    return (H - MB - py) / PH


FONT = "Liberation Sans, Arial, sans-serif"
GRID = "#6a6a6a"
DARK_RED = "#800000"
RED = "#FF0000"
LIME = "#00FF00"
SEA = "#339966"

fig = go.Figure()

# main scatter and its curves
fig.add_trace(go.Scatter(x=sample, y=photosynthesis, mode="markers",
                         marker=dict(size=9, color="black", line=dict(width=0)),
                         hoverinfo="skip"))
for xs, ys in ((pred_hi_x, pred_hi_y), (pred_lo_x, pred_lo_y)):
    fig.add_trace(go.Scatter(x=xs, y=ys, mode="lines",
                             line=dict(color=DARK_RED, width=2.2), hoverinfo="skip"))
for xs, ys in ((conf_hi_x, conf_hi_y), (conf_lo_x, conf_lo_y)):
    fig.add_trace(go.Scatter(x=xs, y=ys, mode="lines",
                             line=dict(color=RED, width=2.6), hoverinfo="skip"))
fig.add_trace(go.Scatter(x=fit_x, y=fit_y, mode="lines",
                         line=dict(color=LIME, width=1.3), hoverinfo="skip"))

# dense per-sample tick band on the category axis (split across two axes)
for ax in ("x4", "x5"):
    fig.add_trace(go.Scatter(x=[sample[0], sample[-1]], y=[None, None], xaxis=ax, yaxis="y",
                             mode="lines", hoverinfo="skip"))

# white panel behind the inset
fig.add_trace(go.Scatter(x=[None], y=[None], xaxis="x2", yaxis="y2", mode="lines",
                         hoverinfo="skip"))

# inset chart
fig.add_trace(go.Scatter(x=inset_pts_x, y=inset_pts_y, xaxis="x3", yaxis="y3", mode="markers",
                         marker=dict(size=4.5, color="black"), hoverinfo="skip"))
for ys in (inset_hi, inset_lo):
    fig.add_trace(go.Scatter(x=inset_x, y=ys, xaxis="x3", yaxis="y3", mode="lines",
                             line=dict(color=SEA, width=3), hoverinfo="skip"))
fig.add_trace(go.Scatter(x=inset_fit_x, y=inset_fit_y, xaxis="x3", yaxis="y3", mode="lines",
                         line=dict(color=RED, width=3), hoverinfo="skip"))

x_range = [sample[0], sample[-1]]

fig.update_layout(
    width=W, height=H,
    margin=dict(l=ML, r=MR, t=MT, b=MB, pad=0),
    paper_bgcolor="white", plot_bgcolor="white",
    template="none", showlegend=False,
    font=dict(family=FONT, color="black"),
    xaxis=dict(range=x_range, domain=[0, 1], anchor="y",
               tickmode="array", tickvals=x_tick_pos, ticktext=x_tick_text,
               tickangle=-90, tickfont=dict(size=35, family=FONT),
               ticks="outside", ticklen=10, tickwidth=1, tickcolor="#111",
               ticklabelstandoff=6,
               showgrid=False, zeroline=False, showline=True, linecolor="#111", linewidth=1),
    xaxis4=dict(range=x_range, overlaying="x", anchor="y", side="bottom",
                tickmode="linear", tick0=1, dtick=2, ticks="outside", ticklen=10,
                tickwidth=1, tickcolor="#111", showticklabels=False,
                showgrid=False, zeroline=False, showline=False),
    xaxis5=dict(range=x_range, overlaying="x", anchor="y", side="bottom",
                tickmode="linear", tick0=2, dtick=2, ticks="outside", ticklen=10,
                tickwidth=1, tickcolor="#777", showticklabels=False,
                showgrid=False, zeroline=False, showline=False),
    yaxis=dict(range=[0, 90], domain=[0, 1], anchor="x",
               tickmode="array", tickvals=y_tick_vals,
               tickfont=dict(size=36, family=FONT), ticks="outside", ticklen=11,
               tickcolor="#333", ticklabelstandoff=12,
               showgrid=True, gridcolor=GRID, gridwidth=1.1,
               zeroline=False, showline=True, linecolor="#111", linewidth=1),
    xaxis2=dict(domain=[fx(228.5), fx(1170)], anchor="y2", range=[0, 1],
                showgrid=False, zeroline=False, showline=False, ticks="",
                showticklabels=False),
    yaxis2=dict(domain=[fy(588), 1.0], anchor="x2", range=[0, 1],
                showgrid=False, zeroline=False, showline=False, ticks="",
                showticklabels=False),
    xaxis3=dict(domain=[fx(299), fx(1137.5)], anchor="y3", range=[500, 700],
                tickmode="array", tickvals=inset_x_ticks,
                tickfont=dict(size=19.5, family=FONT), ticks="outside", ticklen=6,
                tickcolor="#333", ticklabelstandoff=8,
                showgrid=False, zeroline=False,
                showline=True, linecolor="#222", linewidth=1),
    yaxis3=dict(domain=[fy(525), fy(58)], anchor="x3", range=[22, 27],
                tickmode="array", tickvals=inset_y_ticks, tickformat=".1f",
                tickfont=dict(size=19.5, family=FONT), ticks="outside", ticklen=6,
                tickcolor="#333", ticklabelstandoff=4,
                showgrid=True, gridcolor=GRID, gridwidth=1.1, zeroline=False,
                showline=True, linecolor="#222", linewidth=1),
)

fig.add_annotation(text="Photosynthesis", xref="paper", yref="paper",
                   x=fx(34), y=fy(491), textangle=-90, showarrow=False,
                   font=dict(size=27, family=FONT, color="black", weight="bold"),
                   xanchor="center", yanchor="middle")

shapes = [
    # outer chart border
    dict(type="rect", xref="paper", yref="paper", x0=fx(7), x1=fx(1800), y0=fy(1100), y1=fy(7),
         line=dict(color="#444", width=1.5), layer="above"),
    # inset inner frame
    dict(type="rect", xref="paper", yref="paper", x0=fx(242), x1=fx(1155), y0=fy(573), y1=fy(39.5),
         line=dict(color="#222", width=1.5), layer="above"),
    # inset red frame
    dict(type="rect", xref="paper", yref="paper", x0=fx(230.5), x1=fx(1168.5), y0=fy(584.5),
         y1=fy(29), line=dict(color=RED, width=5.5), layer="above"),
    # highlighted region on the main scatter (shadow, then frame)
    dict(type="rect", xref="paper", yref="paper", x0=fx(879.5), x1=fx(993.5), y0=fy(700),
         y1=fy(625), line=dict(color="rgba(0,0,0,0.22)", width=6), layer="above"),
    dict(type="rect", xref="paper", yref="paper", x0=fx(876.6), x1=fx(990.7), y0=fy(697.3),
         y1=fy(622.3), line=dict(color=RED, width=6.5), layer="above"),
]
fig.update_layout(shapes=shapes)

fig.write_html("out.html")
